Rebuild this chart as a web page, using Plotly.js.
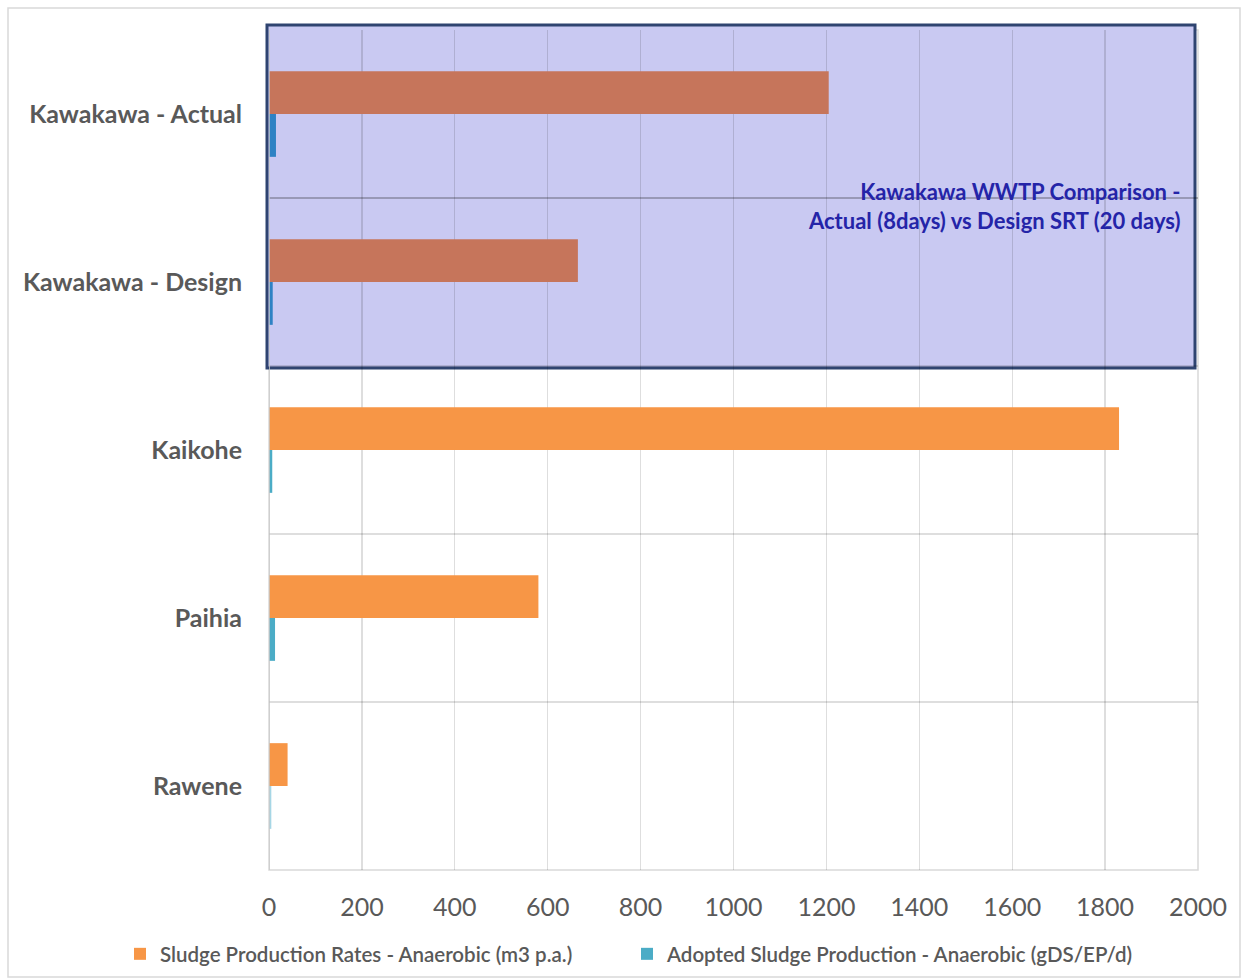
<!DOCTYPE html>
<html>
<head>
<meta charset="utf-8">
<script src="https://cdn.plot.ly/plotly-3.0.1.min.js"></script>
<style>html,body{margin:0;padding:0;background:#fff;}#chart{width:1245px;height:979px;}</style>
</head>
<body>
<div id="chart"></div>
<script>
// Axis order (top to bottom)
const siteOrder = ["Kawakawa - Actual", "Kawakawa - Design", "Kaikohe", "Paihia", "Rawene"];
// Data rows (listed so that a non-highlighted site comes first, which sets the legend swatch colour)
const sites = ["Kaikohe", "Paihia", "Rawene", "Kawakawa - Actual", "Kawakawa - Design"];
const sludgeRates = [1830, 580, 40, 1205, 665];
const adoptedSludge = [7, 13, 5, 15, 8];
const seriesNames = ["Sludge Production Rates - Anaerobic (m3 p.a.)", "Adopted Sludge Production - Anaerobic (gDS/EP/d)"];
const xTicks = [0, 200, 400, 600, 800, 1000, 1200, 1400, 1600, 1800, 2000];
const annotationText = "Kawakawa WWTP Comparison -<br>Actual (8days) vs Design SRT (20 days)";

const orangeCols = sites.map(c => c.startsWith("Kawakawa") ? "#C6755B" : "#F79646");
const blueCols = sites.map(c => c === "Rawene" ? "#A6D6E5" : (c.startsWith("Kawakawa") ? "#2E82C4" : "#4BACC6"));

const pad = "\u00a0\u00a0\u00a0\u00a0";
const traces = [
  {type: "bar", orientation: "h", name: seriesNames[0], y: sites, x: sludgeRates,
   marker: {color: orangeCols}},
  {type: "bar", orientation: "h", name: seriesNames[1] + pad, y: sites, x: adoptedSludge,
   marker: {color: blueCols}}
];

const L = 269, R = 1198, T = 30, B = 870;
const W = R - L, H = B - T;
function px(x) { return (x - L) / W; }
function py(y) { return 1 - (y - T) / H; }

const gridCol = "rgba(0,0,0,0.13)";
const lavender = "#C9C9F2";

const layout = {
  width: 1245, height: 979,
  margin: {l: L, r: 1245 - R, t: T, b: 979 - B, pad: 0, autoexpand: false},
  paper_bgcolor: "#ffffff", plot_bgcolor: "rgba(0,0,0,0)",
  font: {family: "Lato, 'Open Sans', sans-serif", color: "#595959"},
  barmode: "group", bargap: 0.49, bargroupgap: 0,
  showlegend: true,
  legend: {orientation: "h", xref: "paper", yref: "paper", x: px(120), y: py(954),
           xanchor: "left", yanchor: "middle", font: {size: 20.5, color: "#595959", weight: 600},
           itemwidth: 30, traceorder: "normal", itemclick: false, tracegroupgap: 0,
           entrywidth: 462, entrywidthmode: "pixels"},
  xaxis: {range: [0, 2000], tickvals: xTicks, ticktext: xTicks.map(String), showgrid: true,
          gridcolor: gridCol, gridwidth: 1.3, zeroline: false, showline: false,
          tickfont: {size: 25, color: "#595959"}, ticks: "", ticklen: 0, ticklabelstandoff: 20,
          automargin: false},
  yaxis: {type: "category", categoryorder: "array", categoryarray: siteOrder, autorange: "reversed",
          tickson: "boundaries", showgrid: true, gridcolor: gridCol, gridwidth: 1.3, ticks: "",
          showline: false, zeroline: false, ticklabelstandoff: 26,
          tickfont: {size: 25, color: "#595959", weight: "bold"}, automargin: false},
  shapes: [
    {type: "rect", xref: "paper", yref: "paper", x0: px(8), x1: px(1240), y0: py(977), y1: py(8),
     line: {color: "#D9D9D9", width: 1.5}, fillcolor: "rgba(0,0,0,0)", layer: "below"},
    {type: "rect", xref: "paper", yref: "paper", x0: 0, x1: 1, y0: 0, y1: 1,
     line: {color: "#D9D9D9", width: 1.5}, fillcolor: "rgba(0,0,0,0)", layer: "below"},
    {type: "rect", xref: "paper", yref: "paper", x0: px(267), x1: px(1195), y0: py(368), y1: py(25),
     line: {color: "#2F4470", width: 3}, fillcolor: lavender, layer: "below"},
    {type: "line", xref: "x", yref: "paper", x0: 0, x1: 0, y0: 0, y1: 1,
     line: {color: "#C8C8C8", width: 1.5}, layer: "above"}
  ],
  annotations: [
    {xref: "paper", yref: "paper", x: px(1183), y: py(206), xanchor: "right", yanchor: "middle",
     text: annotationText, showarrow: false, align: "right",
     font: {size: 22, color: "#2424A8", weight: "bold"}}
  ]
};

Plotly.newPlot("chart", traces, layout, {displayModeBar: false, staticPlot: true});
</script>
</body>
</html>
